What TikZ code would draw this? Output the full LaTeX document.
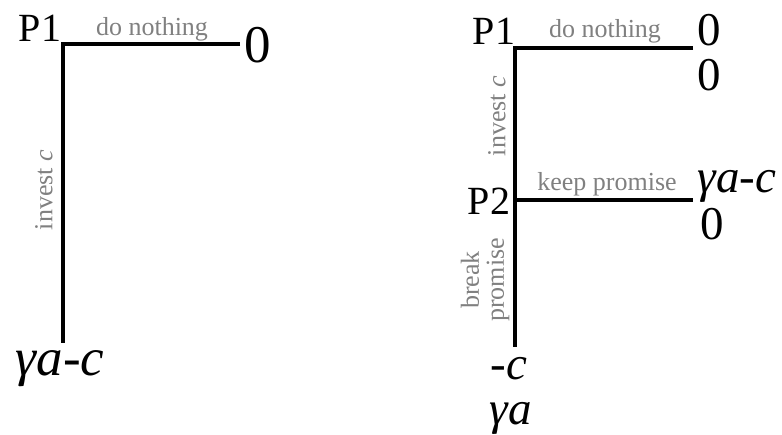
\documentclass[tikz,border=0pt]{standalone}
\usepackage{fontspec}
\setmainfont{Liberation Serif}
\usetikzlibrary{positioning}

\begin{document}
\begin{tikzpicture}[x=1pt, y=1pt,
        branch/.style={line width=4pt, line join=miter},
        player/.style={inner sep=0pt, font=\fontsize{40}{44}\selectfont},
        act/.style={inner sep=0pt, text=gray, align=center, font=\fontsize{26}{25}\selectfont},
        payoff/.style={inner sep=0pt, font=\fontsize{47}{50}\selectfont},
        bigpayoff/.style={inner sep=0pt, font=\fontsize{53}{58}\selectfont}
    ]
        \useasboundingbox (0,0) rectangle (782,435);

        % one-shot game
        \coordinate (a1) at (63,391);
        \coordinate (a1r) at (240,391);
        \coordinate (a1d) at (63,92);
        \node[player] (pa) at (40,407) {P1};
        \node[bigpayoff] (za) at (258,390) {0};
        \node[bigpayoff] (ga) at (60,66) {\itshape γa-c};
        \draw[branch] (a1r) -- (a1) -- (a1d);
        \node[act] (na) at (152,406) {do nothing};
        \node[act, rotate=90] (ia) at (44,245) {invest \textit{c}};

        % game with a promise
        \coordinate (b1) at (515,387);
        \coordinate (b1r) at (693,387);
        \coordinate (b2) at (515,235);
        \coordinate (b2r) at (693,235);
        \coordinate (b2d) at (515,88);
        \node[player] (pb) at (494,404) {P1};
        \node[player] (pc) at (489,234) {P2};
        \node[payoff] (zb1) at (709,405) {0};
        \node[payoff] (zb2) at (709,360) {0};
        \node[payoff] (gb1) at (737,249) {\itshape γa-c};
        \node[payoff] (zb3) at (712,211) {0};
        \node[payoff] (cb) at (509,66) {\itshape -c};
        \node[payoff] (gb2) at (511,17) {\itshape γa};
        \draw[branch] (b1r) -- (b1) -- (b2) -- (b2r);
        \draw[branch] (b2) -- (b2d);
        \node[act] (nb) at (605,404) {do nothing};
        \node[act] (kb) at (607,251) {keep promise};
        \node[act, rotate=90] (ib) at (497,319) {invest \textit{c}};
        \node[act, rotate=90] (bb) at (485,155) {break\\promise};
    \end{tikzpicture}
\end{document}
